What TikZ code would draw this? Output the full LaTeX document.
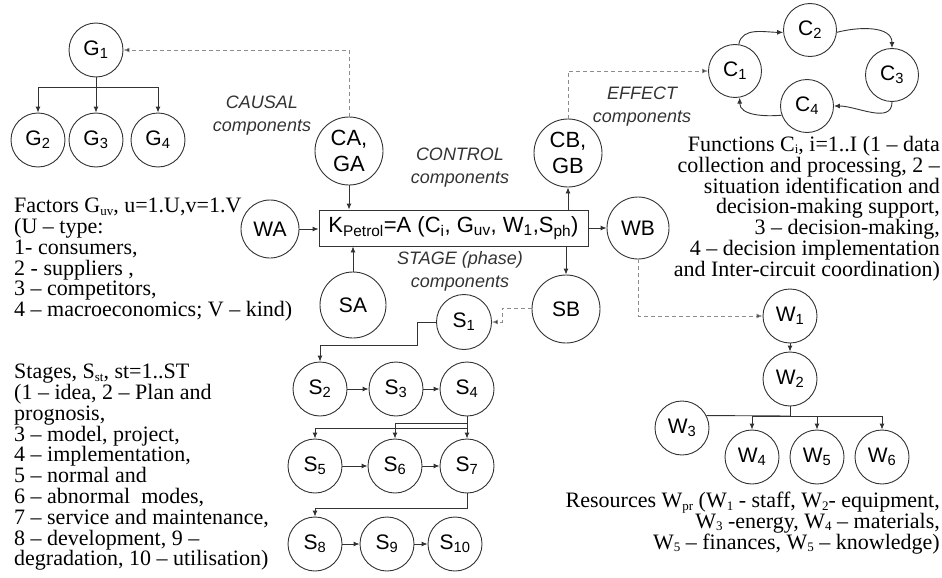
\documentclass[tikz,border=0pt]{standalone}
\usepackage{fontspec}
\setmainfont{Liberation Serif}
\setsansfont{Liberation Sans}
\usetikzlibrary{arrows.meta}
\newcommand\nsb[1]{\raisebox{-2.5pt}{\fontsize{13}{13}\selectfont #1}}
\begin{document}
\begin{tikzpicture}[x=1pt,y=-1pt,
  circ/.style={circle, draw=black!80, line width=0.9pt, minimum size=54pt, inner sep=0pt,
    font=\sffamily\fontsize{21}{22}\selectfont},
  bigcirc/.style={circ, minimum size=68pt, align=center, font=\sffamily\fontsize{22}{26}\selectfont},
  arr/.style={draw=black!80, line width=0.9pt, -{Latex[length=6pt,width=5pt]}},
  ln/.style={draw=black!80, line width=0.9pt},
  dsh/.style={draw=black!45, line width=0.7pt, dash pattern=on 4pt off 3pt, -{Latex[length=6pt,width=5pt,fill=black!80]}},
  lab/.style={font=\sffamily\itshape\fontsize{18}{23}\selectfont, text=black!80, align=center, inner sep=0pt},
  note/.style={font=\fontsize{22}{20.8}\selectfont, inner sep=0pt},
]
\useasboundingbox (0,0) rectangle (942,578);

% G tree
\node[circ] (G1) at (96,50) {G\textsubscript{1}};
\node[circ] (G2) at (38,140) {G\textsubscript{2}};
\node[circ] (G3) at (96,140) {G\textsubscript{3}};
\node[circ] (G4) at (158,140) {G\textsubscript{4}};
\coordinate (gb) at (96,87);
\draw[ln] (G1) -- (gb);
\draw[arr] (gb) -| (G2);
\draw[arr] (gb) -- (G3);
\draw[arr] (gb) -| (G4);

% central
\node[draw=black!80, line width=0.9pt, minimum width=269pt, minimum height=36pt, inner sep=0pt,
  font=\sffamily\fontsize{22}{24}\selectfont] (K) at (453.5,228)
  {K\textsubscript{Petrol}=A (C\textsubscript{i}, G\textsubscript{uv}, W\textsubscript{1},S\textsubscript{ph})};

\node[bigcirc] (CA) at (349,151) {CA,\\GA};
\node[bigcirc] (CB) at (568,153) {CB,\\GB};
\node[circ, minimum size=58pt] (WA) at (270,229) {WA};
\node[circ, minimum size=62pt] (WB) at (638,228) {WB};
\node[circ, minimum size=66pt] (SA) at (353,305) {SA};
\node[circ, minimum size=68pt] (SB) at (566,309) {SB};

\node[lab] (lcausal) at (262,116) {CAUSAL\\components};
\node[lab] (lcontrol) at (460,168) {CONTROL\\components};
\node[lab] (leffect) at (642,107) {EFFECT\\components};
\node[lab] (lstage) at (460,271) {STAGE (phase)\\components};

\draw[arr] (WA.east) -- (WA.east -| K.west);
\draw[arr] (CA.south) -- (CA.south |- K.north);
\draw[arr] (SA.north) -- (SA.north |- K.south);
\draw[arr] (CB.south |- K.north) -- (CB.south);
\draw[arr] (SB.north |- K.south) -- (SB.north);
\draw[arr] (WB.west -| K.east) -- (WB.west);

% C cycle
\node[circ, minimum size=53pt] (C1) at (735,71) {C\textsubscript{1}};
\node[circ, minimum size=53pt] (C2) at (810,30) {C\textsubscript{2}};
\node[circ, minimum size=53pt] (C3) at (892,75) {C\textsubscript{3}};
\node[circ, minimum size=53pt] (C4) at (807,106) {C\textsubscript{4}};
\draw[arr] (C1.82) to[out=80,in=180] (C2.185);
\draw[arr] (C2.-5) to[out=15,in=90] (C3.north);
\draw[arr] (C3.south) to[out=-90,in=0] (C4.east);
\draw[arr] (C4.200) to[out=185,in=-90] (C1.-80);

% dashed links
\draw[dsh] (CA.north) |- (G1.east);
\draw[dsh] (CB.north) |- (C1.west);
\coordinate (sbk) at (502,308);

% S nodes
\node[circ, minimum size=55pt] (S1) at (464,322) {S\textsubscript{1}};
\node[circ] (S2) at (320,389) {S\textsubscript{2}};
\node[circ] (S3) at (396,389) {S\textsubscript{3}};
\node[circ] (S4) at (467,389) {S\textsubscript{4}};
\node[circ] (S5) at (315,466) {S\textsubscript{5}};
\node[circ] (S6) at (395,466) {S\textsubscript{6}};
\node[circ] (S7) at (467,466) {S\textsubscript{7}};
\node[circ] (S8) at (315,544) {S\textsubscript{8}};
\node[circ] (S9) at (387,544) {S\textsubscript{9}};
\node[circ] (S10) at (455,544) {S\textsubscript{10}};

\draw[dsh] (SB.west |- sbk) -- (sbk) |- (S1.east);
\coordinate (s1a) at (417,345);
\draw[arr] (S1.west) -| (s1a) -| (S2);
\draw[arr] (S2) -- (S3);
\draw[arr] (S3) -- (S4);
\draw[arr] (S4) -- (S7);
\coordinate (s4a) at (467,423);
\coordinate (s4b) at (467,428);
\draw[arr] (s4a) -| (S6);
\draw[arr] (s4b) -| (S5);
\draw[arr] (S5) -- (S6);
\draw[arr] (S6) -- (S7);
\coordinate (s7a) at (467,508);
\draw[arr] (S7) -- (s7a) -| (S8);
\draw[arr] (S8) -- (S9);
\draw[arr] (S9) -- (S10);

% W tree
\node[circ] (W1) at (790,316) {W\textsubscript{1}};
\node[circ] (W2) at (790,379) {W\textsubscript{2}};
\node[circ] (W3) at (682,428) {W\textsubscript{3}};
\node[circ] (W4) at (752,457) {W\textsubscript{4}};
\node[circ] (W5) at (817,457) {W\textsubscript{5}};
\node[circ] (W6) at (882,457) {W\textsubscript{6}};
\draw[dsh] (WB.south) |- (W1.west);
\draw[arr] (W1) -- (W2);
\coordinate (wb) at (790,416);
\draw[ln] (W2) -- (wb);
\draw[ln] (W3.27) -- (wb);
\draw[arr] (wb) -| (W4);
\draw[arr] (wb) -| (W5);
\draw[arr] (wb) -| (W6);

% notes
\node[note, anchor=north west, align=left] (tfactors) at (14,198)
 {Factors G\nsb{uv}, u=1.U,v=1.V\\(U -- type:\\1- consumers,\\2 - suppliers ,\\3 -- competitors,\\4 -- macroeconomics; V -- kind)};
\node[note, anchor=north west, align=left] (tstages) at (14,364)
 {Stages, S\nsb{st}, st=1..ST\\(1 -- idea, 2 -- Plan and\\prognosis,\\3 -- model, project,\\4 -- implementation,\\5 -- normal and\\6 -- abnormal\ \ modes,\\7 -- service and maintenance,\\8 -- development, 9 --\\degradation, 10 -- utilisation)};
\node[note, anchor=north east, align=right] (tfunc) at (940,136)
 {Functions C\nsb{i}, i=1..I (1 -- data\\collection and processing, 2 --\\situation identification and\\decision-making support,\\3 -- decision-making,\\4 -- decision implementation\\and Inter-circuit coordination)};
\node[note, anchor=north east, align=right] (tres) at (940,492)
 {Resources W\nsb{pr} (W\nsb{1} - staff, W\nsb{2}- equipment,\\W\nsb{3} -energy, W\nsb{4} -- materials,\\W\nsb{5} -- finances, W\nsb{5} -- knowledge)};
\end{tikzpicture}
\end{document}
